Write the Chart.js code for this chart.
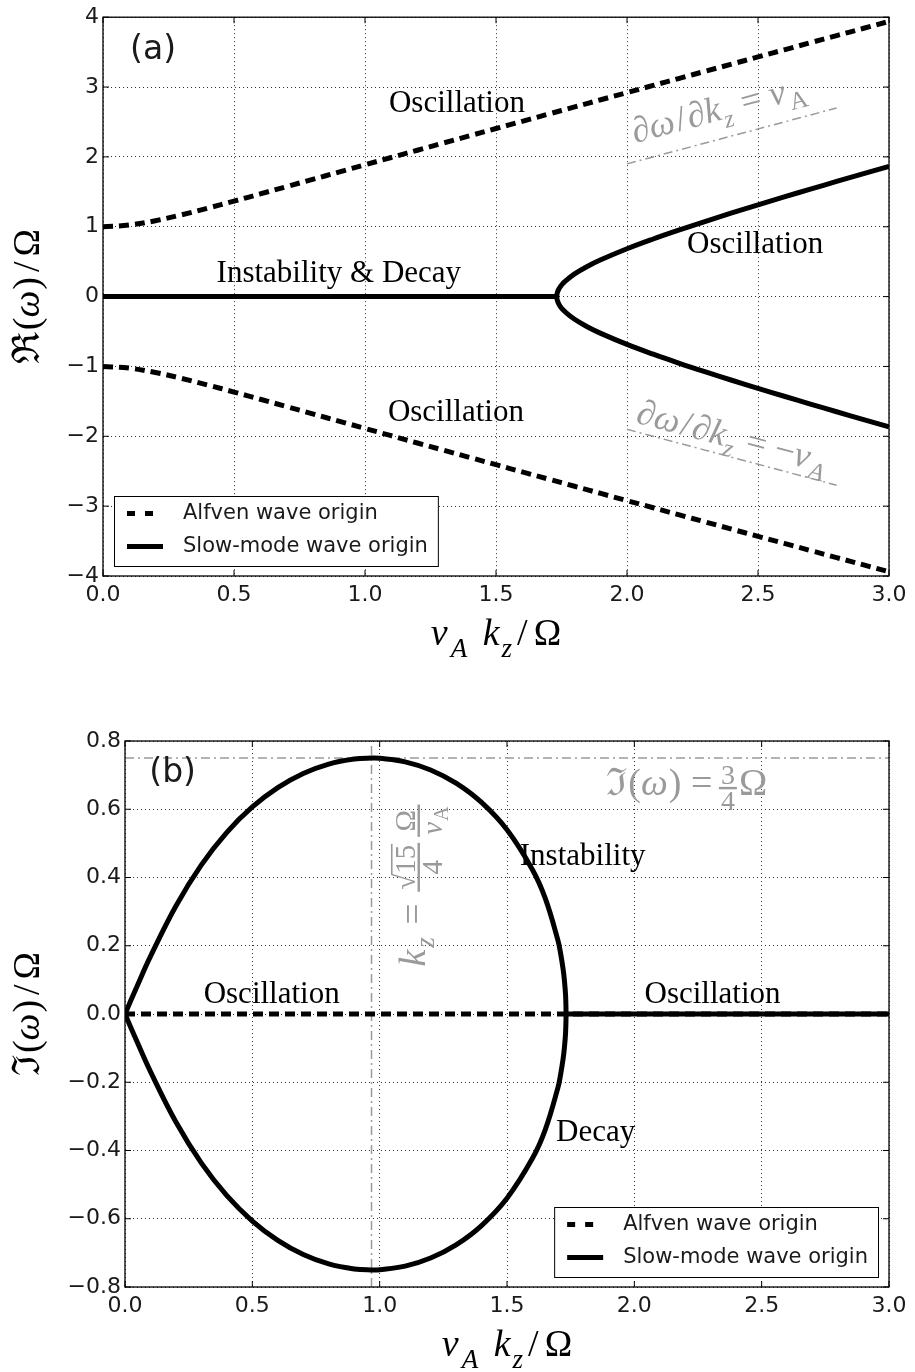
<!DOCTYPE html>
<html>
<head>
<meta charset="utf-8">
<script src="https://cdn.jsdelivr.net/npm/chart.js@4"></script>
<style>
  body { margin: 0; background: #fff; }
  #wrap { position: relative; width: 915px; height: 1372px; }
  canvas { position: absolute; left: 0; }
</style>
</head>
<body>
<div id="wrap">
  <canvas id="chartRe" width="915" height="686" style="top:0"></canvas>
  <canvas id="chartIm" width="915" height="686" style="top:686px"></canvas>
</div>
<script>
// v_A k_z / Omega samples
const kz = [0.0, 0.1, 0.2, 0.3, 0.4, 0.5, 0.6, 0.7, 0.8, 0.9, 1.0, 1.1, 1.2, 1.3, 1.4, 1.5,
            1.6, 1.7, 1.8, 1.9, 2.0, 2.1, 2.2, 2.3, 2.4, 2.5, 2.6, 2.7, 2.8, 2.9, 3.0];
const alfvenReUpper = [1.0000, 1.0240, 1.0864, 1.1709, 1.2663, 1.3668, 1.4697, 1.5737, 1.6782, 1.7827,
                       1.8872, 1.9915, 2.0956, 2.1995, 2.3031, 2.4065, 2.5097, 2.6128, 2.7156, 2.8183,
                       2.9208, 3.0232, 3.1254, 3.2275, 3.3296, 3.4315, 3.5333, 3.6350, 3.7366, 3.8382, 3.9397];
const alfvenReLower = [-1.0000, -1.0240, -1.0864, -1.1709, -1.2663, -1.3668, -1.4697, -1.5737, -1.6782, -1.7827,
                       -1.8872, -1.9915, -2.0956, -2.1995, -2.3031, -2.4065, -2.5097, -2.6128, -2.7156, -2.8183,
                       -2.9208, -3.0232, -3.1254, -3.2275, -3.3296, -3.4315, -3.5333, -3.6350, -3.7366, -3.8382, -3.9397];

// slow mode, real part
const kzSlowZero = [0.0, 1.7321];
const slowReZero = [0, 0];
const kzBranch = [1.7321, 1.733, 1.735, 1.74, 1.745, 1.75, 1.76, 1.8, 1.85, 1.9, 2.0,
                  2.1, 2.2, 2.3, 2.4, 2.5, 2.6, 2.7, 2.8, 2.9, 3.0];
const slowReUpper = [0, 0.0375, 0.0662, 0.1089, 0.1392, 0.1642, 0.2056, 0.3247, 0.4346, 0.5265, 0.6847,
                     0.8248, 0.9548, 1.0784, 1.1975, 1.3134, 1.4269, 1.5385, 1.6485, 1.7574, 1.8653];
const slowReLower = [0, -0.0375, -0.0662, -0.1089, -0.1392, -0.1642, -0.2056, -0.3247, -0.4346, -0.5265, -0.6847,
                     -0.8248, -0.9548, -1.0784, -1.1975, -1.3134, -1.4269, -1.5385, -1.6485, -1.7574, -1.8653];

// group velocity guides
const kzGuide = [2.0, 2.8];
const guideUp = [1.9, 2.7];
const guideDown = [-1.9, -2.7];

// slow mode, imaginary part
const kzEllipse = [0, 0.05, 0.1, 0.2, 0.3, 0.4, 0.5, 0.6, 0.7, 0.8, 0.9, 0.968, 1.0, 1.1, 1.2, 1.3,
                   1.4, 1.5, 1.6, 1.65, 1.7, 1.71, 1.72, 1.725, 1.73, 1.7321];
const slowImUpper = [0, 0.0860, 0.1689, 0.3167, 0.4371, 0.5324, 0.6067, 0.6633, 0.7047, 0.7323, 0.7471, 0.7500,
                     0.7494, 0.7390, 0.7152, 0.6765, 0.6199, 0.5398, 0.4229, 0.3394, 0.2158, 0.1796, 0.1332,
                     0.1021, 0.0551, 0];
const slowImLower = [0, -0.0860, -0.1689, -0.3167, -0.4371, -0.5324, -0.6067, -0.6633, -0.7047, -0.7323, -0.7471, -0.7500,
                     -0.7494, -0.7390, -0.7152, -0.6765, -0.6199, -0.5398, -0.4229, -0.3394, -0.2158, -0.1796, -0.1332,
                     -0.1021, -0.0551, 0];
const kzImZero = [1.7321, 3.0];
const slowImZero = [0, 0];
const kzAlfvenIm = [0.0, 3.0];
const alfvenIm = [0, 0];
const kzPeak = [0.968, 0.968];
const peakLine = [-0.8, 0.8];
const kzFull = [0.0, 3.0];
const maxGrowth = [0.75, 0.75];

// ticks and labels
const kzTicks = [0, 0.5, 1, 1.5, 2, 2.5, 3];
const reTicks = [-4, -3, -2, -1, 0, 1, 2, 3, 4];
const imTicks = [-0.8, -0.6, -0.4, -0.2, 0, 0.2, 0.4, 0.6, 0.8];
const seriesNames = ['Alfven wave origin', 'Slow-mode wave origin'];

const SANS = '"DejaVu Sans", sans-serif';
const SERIF = '"Liberation Serif", "DejaVu Serif", serif';
const GRAY = '#9a9a9a';

function pts(xs, ys) { return xs.map((x, i) => ({x: x, y: ys[i]})); }

function fmtTick(v, digits) {
  const s = Math.abs(v) < 1e-9 ? (0).toFixed(digits) : v.toFixed(digits);
  return s.replace('-', '\u2212');
}

const ALFVEN = {borderColor: '#000', borderWidth: 5, borderDash: [10, 6]};
const SLOW = {borderColor: '#000', borderWidth: 5};
const GUIDE = {borderColor: GRAY, borderWidth: 1.5, borderDash: [9, 4, 2, 4]};

function curve(data, style, order, tension) {
  return Object.assign({data: data, showLine: true, pointRadius: 0, fill: false,
    tension: tension || 0, order: order, borderCapStyle: 'butt', borderJoinStyle: 'round'}, style);
}

function axis(min, max, tickVals, digits, size, isY) {
  return {
    type: 'linear', min: min, max: max,
    afterBuildTicks: s => { s.ticks = tickVals.map(v => ({value: v})); },
    afterFit: s => { if (isY) s.width = size; else s.height = size; },
    grid: {color: '#333', lineWidth: 1, drawTicks: false},
    border: {display: false, dash: [1, 3]},
    ticks: {padding: isY ? 4 : 6, color: '#1a1a1a', font: {family: SANS, size: 22},
            maxRotation: 0, autoSkip: false, callback: v => fmtTick(v, digits)}
  };
}

// small math-text helpers
function P(t, s, it, dy, extra) { return Object.assign({t: t, s: s, it: !!it, dy: dy || 0, gap: 0}, extra || {}); }
function fontOf(p) { return (p.it ? 'italic ' : '') + p.s + 'px ' + SERIF; }
function runWidth(ctx, parts) {
  return parts.reduce((w, p) => { ctx.font = fontOf(p); return w + ctx.measureText(p.t).width + p.gap; }, 0);
}
function run(ctx, parts, x, y) {
  let cx = x;
  parts.forEach(p => {
    ctx.font = fontOf(p);
    const w = ctx.measureText(p.t).width;
    ctx.fillText(p.t, cx, y + p.dy);
    if (p.over) ctx.fillRect(cx - 1, y + p.dy - p.s * 0.82, w + 2, 1.6);
    cx += w + p.gap;
  });
  return cx;
}
function frac(ctx, num, den, x, barY, size) {
  const wn = runWidth(ctx, num), wd = runWidth(ctx, den);
  const w = Math.max(wn, wd) + 4;
  run(ctx, num, x + (w - wn) / 2, barY - 4);
  run(ctx, den, x + (w - wd) / 2, barY + size * 0.8);
  ctx.fillRect(x, barY - 1.2, w, 2.4);
  return x + w;
}

function frame(chart) {
  const {ctx, chartArea: a, scales: {x, y}} = chart;
  ctx.save();
  ctx.strokeStyle = '#000';
  ctx.lineWidth = 1.3;
  ctx.strokeRect(a.left, a.top, a.right - a.left, a.bottom - a.top);
  ctx.lineWidth = 1;
  ctx.beginPath();
  x.ticks.forEach(t => {
    const px = x.getPixelForValue(t.value);
    ctx.moveTo(px, a.bottom); ctx.lineTo(px, a.bottom - 6);
    ctx.moveTo(px, a.top); ctx.lineTo(px, a.top + 6);
  });
  y.ticks.forEach(t => {
    const py = y.getPixelForValue(t.value);
    ctx.moveTo(a.left, py); ctx.lineTo(a.left + 6, py);
    ctx.moveTo(a.right, py); ctx.lineTo(a.right - 6, py);
  });
  ctx.stroke();
  ctx.restore();
}

function note(chart, text, xv, yv, font, color) {
  const {ctx, scales: {x, y}} = chart;
  ctx.save();
  ctx.font = font;
  ctx.fillStyle = color || '#000';
  ctx.textAlign = 'center';
  ctx.textBaseline = 'middle';
  ctx.fillText(text, x.getPixelForValue(xv), y.getPixelForValue(yv));
  ctx.restore();
}

function axisTitles(chart, fr) {
  const {ctx, chartArea: a} = chart;
  const xParts = [P('v', 38, true, 0, {gap: 3}), P('A', 27, true, 12, {gap: 6}), P(' ', 38),
                  P('k', 38, true, 0, {gap: 2}), P('z', 27, true, 12, {gap: 5}),
                  P('/', 38, false, 0, {gap: 6}), P('\u03A9', 37)];
  const yParts = [P(fr, 38, false, 0, {gap: 2}), P('(', 38), P('\u03C9', 38, true, 0, {gap: 1}),
                  P(')', 38, false, 0, {gap: 5}), P('/', 38, false, 0, {gap: 5}), P('\u03A9', 37)];
  ctx.save();
  ctx.fillStyle = '#000';
  ctx.textBaseline = 'alphabetic';
  ctx.textAlign = 'left';
  const wx = runWidth(ctx, xParts);
  run(ctx, xParts, (a.left + a.right) / 2 - wx / 2, a.bottom + 69);
  const wy = runWidth(ctx, yParts);
  ctx.translate(39, (a.top + a.bottom) / 2);
  ctx.rotate(-Math.PI / 2);
  run(ctx, yParts, -wy / 2, 0);
  ctx.restore();
}

function legendBox(chart, left, top, alignRight) {
  const ctx = chart.ctx;
  ctx.save();
  ctx.font = '21px ' + SANS;
  const w = 69 + Math.max(...seriesNames.map(t => ctx.measureText(t).width)) + 10;
  if (alignRight) left = left - w;
  ctx.fillStyle = '#fff';
  ctx.fillRect(left, top, w, 70);
  ctx.strokeStyle = '#000';
  ctx.lineWidth = 1;
  ctx.strokeRect(left + 0.5, top + 0.5, w, 70);
  [ALFVEN, SLOW].forEach((st, i) => {
    const cy = top + 17.5 + i * 33;
    ctx.beginPath();
    ctx.setLineDash(st.borderDash ? [8, 10] : []);
    ctx.lineWidth = 5;
    ctx.strokeStyle = '#000';
    ctx.moveTo(left + 13, cy);
    ctx.lineTo(left + 49, cy);
    ctx.stroke();
    ctx.setLineDash([]);
    ctx.fillStyle = '#1a1a1a';
    ctx.textBaseline = 'middle';
    ctx.fillText(seriesNames[i], left + 69, cy);
  });
  ctx.restore();
}

const baseOptions = (pad, xs, ys) => ({
  responsive: false, animation: false, devicePixelRatio: 1, events: [],
  layout: {padding: pad},
  scales: {x: xs, y: ys},
  plugins: {legend: {display: false}, tooltip: {enabled: false}}
});

// (a) real part
new Chart(document.getElementById('chartRe'), {
  type: 'scatter',
  data: {datasets: [
    curve(pts(kzSlowZero, slowReZero), SLOW, 1),
    curve(pts(kzBranch, slowReLower).reverse().concat(pts(kzBranch, slowReUpper)), SLOW, 1, 0.4),
    curve(pts(kz, alfvenReUpper), ALFVEN, 2, 0.4),
    curve(pts(kz, alfvenReLower), ALFVEN, 2, 0.4),
    curve(pts(kzGuide, guideUp), GUIDE, 3),
    curve(pts(kzGuide, guideDown), GUIDE, 3)
  ]},
  options: baseOptions({left: 0, right: 26, top: 16, bottom: 0},
    axis(0, 3, kzTicks, 1, 110, false), axis(-4, 4, reTicks, 0, 103, true)),
  plugins: [{
    id: 'reDecor',
    afterDraw(chart) {
      const {ctx, scales: {x, y}} = chart;
      frame(chart);
      const serifFont = '31px ' + SERIF;
      note(chart, 'Oscillation', 1.351, 2.76, serifFont);
      note(chart, 'Oscillation', 2.489, 0.743, serifFont);
      note(chart, 'Instability & Decay', 0.90, 0.33, serifFont);
      note(chart, 'Oscillation', 1.347, -1.67, serifFont);
      note(chart, '(a)', 0.191, 3.53, '33px ' + SANS, '#1a1a1a');

      // slope labels along the guides
      [[guideUp, -21, false], [guideDown, -7, true]].forEach(([g, off, neg]) => {
        const x0 = x.getPixelForValue(kzGuide[0]), y0 = y.getPixelForValue(g[0]);
        const x1 = x.getPixelForValue(kzGuide[1]), y1 = y.getPixelForValue(g[1]);
        const parts = [P('\u2202', 36), P('\u03C9', 36, true, 0, {gap: 2}), P('/', 36, false, 0, {gap: 2}),
                       P('\u2202', 36), P('k', 36, true, 0, {gap: 1}), P('z', 25, true, 9, {gap: 2}), P(' = ', 36)];
        if (neg) parts.push(P('\u2212', 36), P('v', 36, true, 0, {gap: 2}), P('A', 25, true, 9));
        else parts.push(P('v', 36, true, 0, {gap: 2}), P('A', 25, false, 9));
        ctx.save();
        ctx.fillStyle = GRAY;
        ctx.translate(x0 + 8, y0 + off);
        ctx.rotate(Math.atan2(y1 - y0, x1 - x0));
        run(ctx, parts, 0, 0);
        ctx.restore();
      });

      axisTitles(chart, '\u211C');
      legendBox(chart, chart.chartArea.left + 11, chart.chartArea.bottom - 80, false);
    }
  }]
});

// (b) imaginary part
new Chart(document.getElementById('chartIm'), {
  type: 'scatter',
  data: {datasets: [
    curve(pts(kzEllipse, slowImUpper).concat(pts(kzEllipse, slowImLower).reverse()), SLOW, 1, 0.4),
    curve(pts(kzImZero, slowImZero), SLOW, 1),
    curve(pts(kzAlfvenIm, alfvenIm), ALFVEN, 2),
    curve(pts(kzPeak, peakLine), GUIDE, 3),
    curve(pts(kzFull, maxGrowth), GUIDE, 3)
  ]},
  options: baseOptions({left: 0, right: 26, top: 55, bottom: 0},
    axis(0, 3, kzTicks, 1, 85, false), axis(-0.8, 0.8, imTicks, 1, 125, true)),
  plugins: [{
    id: 'imDecor',
    afterDraw(chart) {
      const {ctx, scales: {x, y}} = chart;
      frame(chart);
      const serifFont = '31px ' + SERIF;
      note(chart, 'Oscillation', 0.576, 0.055, serifFont);
      note(chart, 'Oscillation', 2.307, 0.055, serifFont);
      note(chart, 'Instability', 1.797, 0.46, serifFont);
      note(chart, 'Decay', 1.848, -0.348, serifFont);
      note(chart, '(b)', 0.187, 0.706, '33px ' + SANS, '#1a1a1a');

      ctx.save();
      ctx.fillStyle = GRAY;
      ctx.textBaseline = 'alphabetic';
      // Im(w) = 3/4 Omega
      ctx.translate(x.getPixelForValue(1.89), y.getPixelForValue(0.6415));
      let cx = run(ctx, [P('\u2111', 38, false, 0, {gap: 1}), P('(', 38), P('\u03C9', 38, true, 0, {gap: 1}),
                         P(')', 38), P(' = ', 38)], 0, 0);
      cx = frac(ctx, [P('3', 28)], [P('4', 28)], cx - 3, -7, 28);
      run(ctx, [P('\u03A9', 38)], cx + 2, 0);
      ctx.restore();

      // k_z = sqrt(15)/4 Omega/v_A, vertical
      ctx.save();
      ctx.fillStyle = GRAY;
      ctx.translate(x.getPixelForValue(1.177), y.getPixelForValue(0.139));
      ctx.rotate(-Math.PI / 2);
      cx = run(ctx, [P('k', 38, true, 0, {gap: 2}), P('z', 27, true, 9, {gap: 3}), P(' = ', 38)], 0, 0);
      cx = frac(ctx, [P('\u221A', 29), P('15', 29, false, 0, {over: true})], [P('4', 29)], cx + 2, -6, 29);
      frac(ctx, [P('\u03A9', 29)], [P('v', 29, true, 0, {gap: 1}), P('A', 20, false, 6)], cx + 6, -6, 29);
      ctx.restore();

      axisTitles(chart, '\u2111');
      legendBox(chart, chart.chartArea.right - 11, chart.chartArea.bottom - 80, true);
    }
  }]
});
</script>
</body>
</html>
